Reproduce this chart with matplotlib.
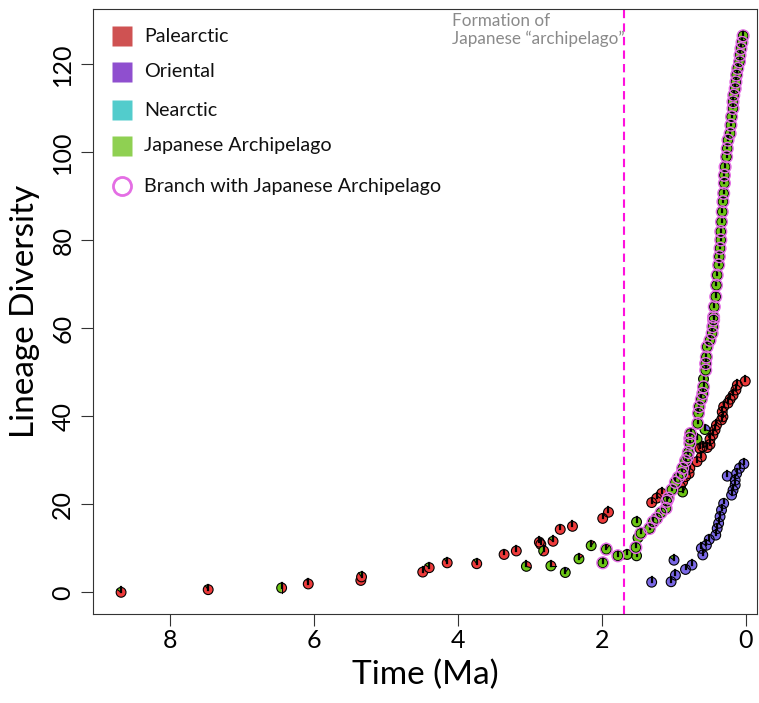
import numpy as np
import matplotlib
matplotlib.use('Agg')
import matplotlib.pyplot as plt
from matplotlib.patches import Wedge, Circle
from matplotlib.lines import Line2D
import matplotlib.transforms as mtransforms

plt.rcParams['font.family'] = ['Lato', 'DejaVu Sans']

# region colours (legend) and pie colours (markers)
region_names = ['Palearctic', 'Oriental', 'Nearctic', 'Japanese Archipelago']
legend_cols = ['#cf5252', '#8f4fcf', '#52cccc', '#8fd052']
pie_cols = ['#ee3b3b', '#7a68e6', '#4fd0d0', '#6cc615']
ring_col = '#e46ee4'
branch_label = 'Branch with Japanese Archipelago'

# Palearctic lineages (time Ma, lineage diversity)
pal_t = [5.35, 4.49, 3.36, 3.19, 2.87, 2.85, 2.58, 2.41, 1.99, 1.91,
         1.31, 1.24, 1.17, 0.91, 0.88, 0.84, 0.79, 0.78, 0.68, 0.62,
         0.64, 0.60, 0.54, 0.50, 0.50, 0.46, 0.43, 0.41, 0.34, 0.32,
         0.33, 0.31, 0.25, 0.22, 0.18, 0.14, 0.12, 0.01]
pal_y = [2.7, 4.6, 8.6, 9.4, 11.4, 10.9, 14.3, 15.0, 16.8, 18.2,
         20.4, 21.4, 22.5, 24.0, 25.1, 26.3, 27.0, 28.2, 29.7, 30.8,
         32.7, 33.1, 32.9, 33.6, 34.8, 35.8, 36.9, 38.0, 39.2, 39.9,
         41.0, 42.2, 43.0, 43.9, 44.8, 46.0, 47.1, 48.0]

# Oriental lineages
ori_t = [1.31, 1.04, 0.98, 0.84, 0.75, 0.60, 0.62, 0.55, 0.51, 0.42,
         0.40, 0.38, 0.36, 0.34, 0.31, 0.20, 0.18, 0.15, 0.15, 0.26,
         0.13, 0.09, 0.03]
ori_y = [2.3, 2.4, 3.9, 5.2, 6.2, 8.5, 10.0, 10.7, 12.0, 13.0,
         14.5, 15.7, 17.2, 18.7, 20.2, 22.1, 23.2, 24.4, 25.5, 26.4,
         27.0, 28.2, 29.2]

# Japanese Archipelago lineages (not on the archipelago branch)
jap_t = [1.65, 1.52, 1.50, 1.52, 0.88, 0.68, 0.59]
jap_y = [8.6, 8.3, 12.4, 16.0, 22.8, 34.8, 48.5]

# lineages on the branch with the Japanese Archipelago
br_t = [1.99, 1.78, 1.53, 1.46, 1.34, 1.29, 1.24, 1.18, 1.11, 1.10,
        1.08, 1.03, 0.98, 0.94, 0.89, 0.88, 0.84, 0.81, 0.80, 0.78,
        0.78, 0.77, 0.67, 0.66, 0.65, 0.62, 0.60, 0.59, 0.56, 0.56,
        0.55, 0.54, 0.50, 0.47, 0.46, 0.45, 0.45, 0.44, 0.42, 0.41,
        0.40, 0.38, 0.37, 0.36, 0.35, 0.35, 0.34, 0.33, 0.32, 0.31,
        0.30, 0.30, 0.29, 0.27, 0.26, 0.25, 0.22, 0.21, 0.20, 0.18,
        0.18, 0.17, 0.15, 0.14, 0.13, 0.115, 0.09, 0.083, 0.07, 0.055,
        0.04]
br_y = [6.7, 8.3, 10.2, 13.4, 14.5, 16.0, 16.8, 18.1, 19.1, 20.7,
        21.4, 23.3, 25.0, 26.1, 27.0, 28.2, 29.9, 30.8, 31.8, 33.9,
        35.0, 36.1, 38.4, 40.7, 42.2, 43.9, 45.2, 46.7, 50.5, 52.0,
        53.5, 55.8, 57.3, 58.9, 60.4, 61.9, 62.6, 64.9, 67.2, 69.8,
        72.1, 74.4, 76.3, 78.2, 80.1, 82.0, 84.2, 86.5, 88.8, 90.7,
        93.0, 94.8, 96.7, 99.0, 100.9, 102.8, 104.3, 106.2, 108.1, 110.0,
        111.5, 113.0, 114.5, 116.0, 117.6, 119.1, 120.6, 122.1, 123.6, 125.0,
        126.5]

# nodes with mixed ancestral states: (Pal, Ori, Nea, Jap) probabilities
mix_t = [8.68, 7.47, 6.45, 6.08, 5.34, 4.40, 4.15, 3.74, 2.81, 2.68,
         3.05, 2.71, 2.51, 2.32, 2.15, 1.94, 1.00, 0.57]
mix_y = [0.0, 0.6, 1.0, 1.9, 3.5, 5.6, 6.7, 6.5, 9.4, 11.6,
         5.9, 6.0, 4.5, 7.6, 10.6, 9.8, 7.3, 37.0]
mix_p = [(0.85, 0, 0, 0.15), (0.9, 0, 0, 0.1), (0.5, 0, 0, 0.5), (0.95, 0, 0, 0.05),
         (0.9, 0, 0, 0.1), (0.85, 0, 0, 0.15), (0.9, 0, 0, 0.1), (0.9, 0, 0, 0.1),
         (0.6, 0, 0, 0.4), (0.85, 0, 0, 0.15), (0.3, 0, 0, 0.7), (0.25, 0, 0, 0.75),
         (0, 0.1, 0, 0.9), (0.15, 0, 0, 0.85), (0.1, 0, 0, 0.9), (0.1, 0, 0, 0.9),
         (0, 0.85, 0, 0.15), (0, 0.3, 0, 0.7)]
mix_ring = [False] * 15 + [True, False, False]

japan_formation = 1.7

fig = plt.figure(figsize=(7.59, 7.03), dpi=100)
ax = fig.add_axes([93/759, 1 - 614/703, 664/759, 605/703])
ax.set_xlim(9.07, -0.153)
ax.set_ylim(-4.93, 132.6)

R = 4.9  # pie radius in pixels


def draw_pie(x, y, probs, ring=False, z=3):
    trans = mtransforms.Affine2D().scale(R) + mtransforms.ScaledTranslation(x, y, ax.transData)
    start = 0.0
    for k, p in enumerate(probs):
        if p <= 0:
            continue
        a1 = 90 - 360 * (start + p)
        a2 = 90 - 360 * start
        ax.add_artist(Wedge((0, 0), 1, a1, a2, facecolor=pie_cols[k],
                            edgecolor='none', transform=trans, zorder=z))
        if start > 0:
            ang = np.radians(a2)
            ax.add_artist(Line2D([0, np.cos(ang)], [0, np.sin(ang)], color='black',
                                 lw=0.8, transform=trans, zorder=z + 0.1))
        start += p
    ax.add_artist(Line2D([0, 0], [0, 1], color='black', lw=1.6,
                         transform=trans, zorder=z + 0.1))
    ax.add_artist(Circle((0, 0), 1, facecolor='none', edgecolor='black',
                         lw=0.8, transform=trans, zorder=z + 0.2))
    if ring:
        ax.add_artist(Circle((0, 0), 1.2, facecolor='none', edgecolor=ring_col,
                             lw=1.0, transform=trans, zorder=z + 0.3))


for t, y in zip(pal_t, pal_y):
    draw_pie(t, y, (1, 0, 0, 0), z=3)
for t, y in zip(ori_t, ori_y):
    draw_pie(t, y, (0, 1, 0, 0), z=3)
for t, y in zip(jap_t, jap_y):
    draw_pie(t, y, (0, 0, 0, 1), z=3)
for t, y, p, rg in zip(mix_t, mix_y, mix_p, mix_ring):
    draw_pie(t, y, p, ring=rg, z=4)
for t, y in zip(br_t, br_y):
    draw_pie(t, y, (0, 0, 0, 1), ring=True, z=5)

# island formation
ax.axvline(japan_formation, color='#ff10dd', lw=1.5, ls=(0, (4, 2.5)), zorder=2)
ax.text(0.5407, 0.994, 'Formation of\nJapanese \u201carchipelago\u201d', transform=ax.transAxes,
        ha='left', va='top', fontsize=12.3, color='#8a8a8a', linespacing=1.15)

# legend drawn by hand
leg_y = [0.955, 0.896, 0.833, 0.774, 0.707]
for i in range(4):
    ax.plot([0.0437], [leg_y[i]], marker='s', ms=14, mfc=legend_cols[i], mec='none',
            ls='none', transform=ax.transAxes, clip_on=False)
    ax.text(0.0768, leg_y[i], region_names[i], transform=ax.transAxes,
            ha='left', va='center', fontsize=14.2, color='#111111')
ax.plot([0.0437], [leg_y[4]], marker='o', ms=13, mfc='none', mec=ring_col, mew=2,
        ls='none', transform=ax.transAxes, clip_on=False)
ax.text(0.0768, leg_y[4], branch_label, transform=ax.transAxes,
        ha='left', va='center', fontsize=14.2, color='#111111')

ax.set_xticks([8, 6, 4, 2, 0])
ax.set_yticks([0, 20, 40, 60, 80, 100, 120])
ax.tick_params(axis='both', direction='out', length=8.5, width=0.8, labelsize=18, color='#333333')
ax.tick_params(axis='x', pad=2)
ax.tick_params(axis='y', pad=5, labelrotation=90)
for lab in ax.get_yticklabels():
    lab.set_va('center')
for sp in ax.spines.values():
    sp.set_linewidth(0.8)
    sp.set_color('#333333')

ax.set_xlabel('Time (Ma)', fontsize=24, labelpad=6)
ax.set_ylabel('Lineage Diversity', fontsize=24, labelpad=8)

fig.savefig('out.png', dpi=100)
